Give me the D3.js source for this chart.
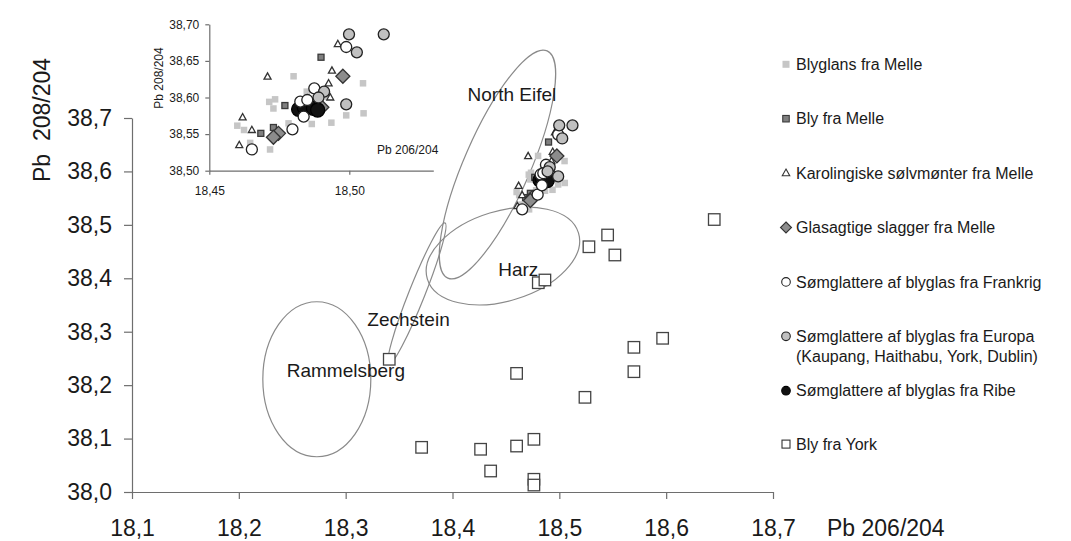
<!DOCTYPE html>
<html><head><meta charset="utf-8">
<script src="https://cdn.jsdelivr.net/npm/d3@7/dist/d3.min.js"></script>
<style>
html,body{margin:0;padding:0;background:#fff;}
svg{display:block;font-family:"Liberation Sans",Arial,sans-serif;}
</style></head>
<body>
<script>
// ---------- data ----------
const blyglansX = [18.4600,18.4624,18.4646,18.4717,18.4801,18.4714,18.4735,18.4729,18.4848,18.4866,18.4936,18.4989,18.5049,18.5051,18.4783,18.4924];
const blyglansY = [38.5615,38.5556,38.538,38.529,38.629,38.594,38.5975,38.585,38.608,38.5638,38.5656,38.5756,38.6194,38.5784,38.5647,38.601];
const blyMelleX = [18.4899,18.4770,18.4684,18.4729];
const blyMelleY = [38.655,38.589,38.551,38.559];
const moenterX = [18.4959,18.4708,18.4619,18.4652,18.4607,18.4938,18.4926,18.4932];
const moenterY = [38.673,38.6285,38.5729,38.5556,38.535,38.6367,38.6194,38.600];
const slaggerX = [18.4977,18.4747,18.4729,18.4902];
const slaggerY = [38.629,38.551,38.5456,38.5866];
const ribeX = [18.4819,18.4839,18.4872,18.4887];
const ribeY = [38.5838,38.5866,38.5852,38.5829];
const frankrigX = [18.4989,18.4875,18.4652,18.4797,18.4825,18.4837,18.4850];
const frankrigY = [38.669,38.6125,38.529,38.5565,38.5943,38.5738,38.5966];
const europaX = [18.4999,18.5123,18.5027,18.4989,18.4910,18.4890];
const europaY = [38.6863,38.6863,38.6617,38.5907,38.608,38.600];
const yorkX = [18.5277,18.5452,18.552,18.4803,18.4865,18.3408,18.5967,18.5698,18.5698,18.46,18.524,18.3711,18.4263,18.46,18.4762,18.4357,18.4762,18.4762,18.645];
const yorkY = [38.459,38.481,38.4436,38.3917,38.3968,38.2484,38.2877,38.2708,38.2252,38.222,38.1772,38.0836,38.080,38.086,38.0986,38.0393,38.0238,38.013,38.51];

const mainXTicks = [18.1,18.2,18.3,18.4,18.5,18.6,18.7];
const mainYTicks = [38.0,38.1,38.2,38.3,38.4,38.5,38.6,38.7];
const insetXTicks = [18.45,18.50];
const insetYTicks = [38.50,38.55,38.60,38.65,38.70];

const legendLabels = [
  ["Blyglans fra Melle"],
  ["Bly fra Melle"],
  ["Karolingiske sølvmønter fra Melle"],
  ["Glasagtige slagger fra Melle"],
  ["Sømglattere af blyglas fra Frankrig"],
  ["Sømglattere af blyglas fra Europa","(Kaupang, Haithabu, York, Dublin)"],
  ["Sømglattere af blyglas fra Ribe"],
  ["Bly fra York"]
];

// ellipses: name, centre (data), semi axes (px), rotation (deg), label position (data)
const regionNames = ["North Eifel","Harz","Zechstein","Rammelsberg"];
const regionCx = [18.4421,18.4472,18.3667,18.273];
const regionCy = [38.613,38.4417,38.3715,38.211];
const regionRx = [33,79,8,54];
const regionRy = [124,45,76,77.5];
const regionRot = [23.6,-17,21.7,0];
const regionLabelX = [18.4141,18.4428,18.3203,18.2448];
const regionLabelY = [38.7310,38.4049,38.3112,38.2161];

// ---------- layout ----------
const W = 1071, H = 541;
const svg = d3.select("body").append("svg").attr("width",W).attr("height",H);

const x = d3.scaleLinear().domain([18.1,18.7]).range([132,773]);
const y = d3.scaleLinear().domain([38.0,38.7]).range([492,118]);
const xi = d3.scaleLinear().domain([18.45,18.53]).range([209.3,433.3]);
const yi = d3.scaleLinear().domain([38.5,38.7]).range([170.7,24.3]);

const comma = (d,n)=>d.toFixed(n).replace(".",",");
const axisColor = "#6e6e6e";

function styleAxis(g, fs){
  g.select(".domain").attr("stroke",axisColor).attr("stroke-width",1.2);
  g.selectAll(".tick line").attr("stroke",axisColor).attr("stroke-width",1.2);
  g.selectAll(".tick text").attr("fill","#1a1a1a").style("font-size",fs+"px").style("font-family","'Liberation Sans',Arial,sans-serif");
}

// main axes
const gx = svg.append("g").attr("transform","translate(0,492)")
  .call(d3.axisBottom(x).tickValues(mainXTicks).tickSize(7).tickSizeOuter(0).tickPadding(21).tickFormat(d=>comma(d,1)));
styleAxis(gx,23);
const gy = svg.append("g").attr("transform","translate(132,0)")
  .call(d3.axisLeft(y).tickValues(mainYTicks).tickSize(8).tickSizeOuter(0).tickPadding(12).tickFormat(d=>comma(d,1)));
styleAxis(gy,23);

svg.append("text").attr("x",827).attr("y",536).attr("font-size",23).attr("fill","#1a1a1a").text("Pb 206/204");
svg.append("text").attr("transform","translate(50,120) rotate(-90)").attr("text-anchor","middle")
  .attr("font-size",23).attr("fill","#1a1a1a").style("white-space","pre").text("Pb  208/204");

// ellipses
regionNames.forEach((n,i)=>{
  const cx = x(regionCx[i]), cy = y(regionCy[i]);
  svg.append("ellipse").attr("cx",0).attr("cy",0).attr("rx",regionRx[i]).attr("ry",regionRy[i])
    .attr("transform",`translate(${cx},${cy}) rotate(${regionRot[i]})`)
    .attr("fill","none").attr("stroke","#8a8a8a").attr("stroke-width",1.2);
});
regionNames.forEach((n,i)=>{
  svg.append("text").attr("x",x(regionLabelX[i])).attr("y",y(regionLabelY[i])).attr("font-size",19).attr("fill","#1a1a1a").text(n);
});

// inset axes
const gxi = svg.append("g").attr("transform","translate(0,170.7)")
  .call(d3.axisBottom(xi).tickValues(insetXTicks).tickSize(4).tickSizeOuter(0).tickPadding(12).tickFormat(d=>comma(d,2)));
styleAxis(gxi,12);
const gyi = svg.append("g").attr("transform","translate(209.3,0)")
  .call(d3.axisLeft(yi).tickValues(insetYTicks).tickSize(4).tickSizeOuter(0).tickPadding(6).tickFormat(d=>comma(d,2)));
styleAxis(gyi,12);
svg.append("text").attr("x",377).attr("y",154).attr("font-size",12).attr("fill","#1a1a1a").text("Pb 206/204");
svg.append("text").attr("transform","translate(163,78) rotate(-90)").attr("text-anchor","middle")
  .attr("font-size",12).attr("fill","#1a1a1a").text("Pb 208/204");

// ---------- markers ----------
const series = [
  {xs:blyglansX, ys:blyglansY, shape:"square", fill:"#c6c6c6", stroke:"none", s:6.5},
  {xs:blyMelleX, ys:blyMelleY, shape:"square", fill:"#7f7f7f", stroke:"#3a3a3a", s:6},
  {xs:moenterX, ys:moenterY, shape:"triangle", fill:"#fff", stroke:"#333", s:7},
  {xs:slaggerX, ys:slaggerY, shape:"diamond", fill:"#8c8c8c", stroke:"#333", s:7},
  {xs:ribeX, ys:ribeY, shape:"circle", fill:"#111", stroke:"#000", s:7},
  {xs:frankrigX, ys:frankrigY, shape:"circle", fill:"#fff", stroke:"#222", s:5.5},
  {xs:europaX, ys:europaY, shape:"circle", fill:"#c0c0c0", stroke:"#222", s:5.5},
  {xs:yorkX, ys:yorkY, shape:"square", fill:"#fff", stroke:"#444", s:11.5}
];

function drawMarker(g, shape, cx, cy, s, fill, stroke, sw){
  if(shape==="square"){
    g.append("rect").attr("x",cx-s/2).attr("y",cy-s/2).attr("width",s).attr("height",s)
      .attr("fill",fill).attr("stroke",stroke).attr("stroke-width",sw);
  } else if(shape==="circle"){
    g.append("circle").attr("cx",cx).attr("cy",cy).attr("r",s).attr("fill",fill).attr("stroke",stroke).attr("stroke-width",sw);
  } else if(shape==="diamond"){
    g.append("path").attr("d",`M${cx},${cy-s}L${cx+s},${cy}L${cx},${cy+s}L${cx-s},${cy}Z`)
      .attr("fill",fill).attr("stroke",stroke).attr("stroke-width",sw);
  } else if(shape==="triangle"){
    const h = s*0.9;
    g.append("path").attr("d",`M${cx},${cy-h*0.6}L${cx+s/2},${cy+h*0.4}L${cx-s/2},${cy+h*0.4}Z`)
      .attr("fill",fill).attr("stroke",stroke).attr("stroke-width",sw);
  }
}

const gMain = svg.append("g");
series.forEach(se=>{
  se.xs.forEach((v,i)=>drawMarker(gMain, se.shape, x(v), y(se.ys[i]), se.s, se.fill, se.stroke, 1.3));
});
const gInset = svg.append("g");
series.slice(0,7).forEach(se=>{
  se.xs.forEach((v,i)=>drawMarker(gInset, se.shape, xi(v), yi(se.ys[i]), se.s, se.fill, se.stroke, 1.3));
});

// ---------- legend ----------
const legY0 = 64.3, legStep = 54.4;
const legShapes = [
  {shape:"square", fill:"#c6c6c6", stroke:"none", s:7},
  {shape:"square", fill:"#7f7f7f", stroke:"#3a3a3a", s:6.5},
  {shape:"triangle", fill:"#fff", stroke:"#333", s:7.5},
  {shape:"diamond", fill:"#8c8c8c", stroke:"#333", s:5.5},
  {shape:"circle", fill:"#fff", stroke:"#222", s:4.3},
  {shape:"circle", fill:"#c0c0c0", stroke:"#222", s:4.3},
  {shape:"circle", fill:"#111", stroke:"#000", s:4.3},
  {shape:"square", fill:"#fff", stroke:"#333", s:8}
];
const gLeg = svg.append("g");
legendLabels.forEach((lines,i)=>{
  const cy = legY0 + i*legStep - (i===7?1:0);
  const sh = legShapes[i];
  drawMarker(gLeg, sh.shape, 786, cy, sh.s, sh.fill, sh.stroke, 1.1);
  lines.forEach((t,j)=>{
    gLeg.append("text").attr("x",796).attr("y",cy+5.6+j*20).attr("font-size",16).attr("fill","#1a1a1a").text(t);
  });
});
</script>
</body></html>
